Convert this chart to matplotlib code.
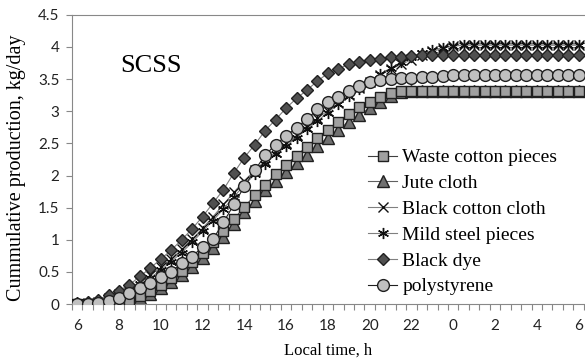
import numpy as np
import matplotlib
matplotlib.use('Agg')
from matplotlib import pyplot as plt

# half-hourly samples, 06:00 -> 06:00 next day (49 points)
HOURS = [6 + 0.5 * i for i in range(49)]
TICK_LABELS = ['6', '8', '10', '12', '14', '16', '18', '20', '22', '0', '2', '4', '6']

waste_cotton = [0.00, 0.00, 0.00, 0.01, 0.02, 0.06, 0.12, 0.20, 0.29, 0.40,
                0.52, 0.65, 0.80, 0.96, 1.13, 1.32, 1.51, 1.69, 1.86, 2.02,
                2.17, 2.31, 2.45, 2.58, 2.71, 2.84, 2.96, 3.06, 3.15, 3.22,
                3.28, 3.31, 3.32] + [3.32] * 16
jute = [0.00, 0.00, 0.00, 0.00, 0.01, 0.04, 0.09, 0.16, 0.25, 0.35,
        0.46, 0.58, 0.72, 0.88, 1.05, 1.24, 1.43, 1.61, 1.78, 1.92,
        2.06, 2.19, 2.32, 2.46, 2.59, 2.71, 2.84, 2.94, 3.05, 3.15,
        3.24, 3.30, 3.32] + [3.32] * 16
black_cotton = [0.00, 0.01, 0.04, 0.09, 0.16, 0.24, 0.34, 0.45, 0.57, 0.70,
                0.85, 1.01, 1.18, 1.36, 1.55, 1.74, 1.92, 2.08, 2.23, 2.37,
                2.50, 2.63, 2.76, 2.89, 3.01, 3.13, 3.25, 3.36, 3.46, 3.56,
                3.65, 3.73, 3.80, 3.87, 3.93, 3.98, 4.01] + [4.03] * 12
mild_steel = [0.00, 0.01, 0.03, 0.08, 0.14, 0.22, 0.31, 0.41, 0.53, 0.66,
              0.80, 0.96, 1.13, 1.30, 1.48, 1.67, 1.85, 2.02, 2.18, 2.33,
              2.46, 2.59, 2.72, 2.85, 2.98, 3.11, 3.23, 3.35, 3.47, 3.58,
              3.67, 3.76, 3.84, 3.90, 3.95, 3.99, 4.02] + [4.03] * 12
black_dye = [0.01, 0.03, 0.07, 0.14, 0.21, 0.30, 0.43, 0.56, 0.70, 0.84,
             1.00, 1.17, 1.36, 1.57, 1.78, 2.04, 2.28, 2.48, 2.70, 2.87,
             3.05, 3.20, 3.33, 3.47, 3.59, 3.66, 3.73, 3.77, 3.80, 3.82,
             3.84, 3.85, 3.86] + [3.87] * 16
polystyrene = [0.00, 0.00, 0.02, 0.05, 0.10, 0.18, 0.25, 0.33, 0.42, 0.50,
               0.64, 0.74, 0.89, 1.01, 1.27, 1.55, 1.83, 2.08, 2.32, 2.48,
               2.62, 2.74, 2.88, 3.03, 3.14, 3.22, 3.32, 3.40, 3.46, 3.49,
               3.50, 3.51, 3.52, 3.53, 3.54, 3.55, 3.56] + [3.57] * 12

SERIES = [
    ('Waste cotton pieces', waste_cotton, dict(marker='s', ms=7, mfc='#a0a0a0', mec='#202020', mew=1.0, color='#404040'), 3),
    ('Jute cloth', jute, dict(marker='^', ms=8, mfc='#707070', mec='#202020', mew=1.0, color='#606060'), 2),
    ('Black cotton cloth', black_cotton, dict(marker='x', ms=7, mec='#101010', mew=1.0, color='#808080'), 4),
    ('Mild steel pieces', mild_steel, dict(marker=(6, 2, 0), ms=8, mec='#101010', mew=1.0, color='#808080'), 5),
    ('Black dye', black_dye, dict(marker='D', ms=6.5, mfc='#505050', mec='#202020', mew=1.0, color='#808080'), 6),
    ('polystyrene', polystyrene, dict(marker='o', ms=8.5, mfc='#c0c0c0', mec='#202020', mew=1.0, color='#202020'), 7),
]

fig = plt.figure(figsize=(5.85, 3.62), dpi=100)
ax = fig.add_axes([0.123, 0.160, 0.875, 0.799])

idx = np.arange(len(HOURS))
for name, vals, style, z in SERIES:
    ax.plot(idx, vals, lw=0.8, label=name, zorder=z, **style)

ax.set_xlim(-0.5, len(HOURS) - 0.5)
ax.set_ylim(0, 4.5)
ax.set_xticks(idx[::4])
ax.set_xticklabels(TICK_LABELS)
ax.set_xticks(np.arange(-0.5, len(HOURS), 1), minor=True)
ax.set_yticks(np.arange(0, 4.51, 0.5))
ax.set_yticklabels(['0', '0.5', '1', '1.5', '2', '2.5', '3', '3.5', '4', '4.5'])
ax.tick_params(axis='x', which='major', length=0, pad=11, labelsize=11, colors='#222222')
ax.tick_params(axis='x', which='minor', length=4, width=0.8, color='#888888', direction='out')
ax.tick_params(axis='y', length=4, width=0.8, color='#888888', pad=5, labelsize=11, labelcolor='#222222')
for lab in ax.get_xticklabels() + ax.get_yticklabels():
    lab.set_family('Lato')

for side in ['left', 'bottom', 'top']:
    ax.spines[side].set_color('#888888')
    ax.spines[side].set_linewidth(0.8)
ax.spines['right'].set_visible(False)

ax.set_xlabel('Local time, h', family='Liberation Serif', fontsize=12)
ax.xaxis.set_label_coords(0.5, -0.135)
ax.set_ylabel('Cummulative production, kg/day', family='Liberation Serif', fontsize=14.5)
ax.yaxis.set_label_coords(-0.09, 0.47)
ax.text(0.094, 0.803, 'SCSS', transform=ax.transAxes, family='Liberation Serif', fontsize=19)

leg = ax.legend(loc='lower left', bbox_to_anchor=(0.556, -0.01), frameon=False,
                prop={'family': 'Liberation Serif', 'size': 14}, handlelength=1.5,
                handletextpad=0.25, labelspacing=0.42, borderaxespad=0.2)

fig.savefig('out.png', dpi=100)
